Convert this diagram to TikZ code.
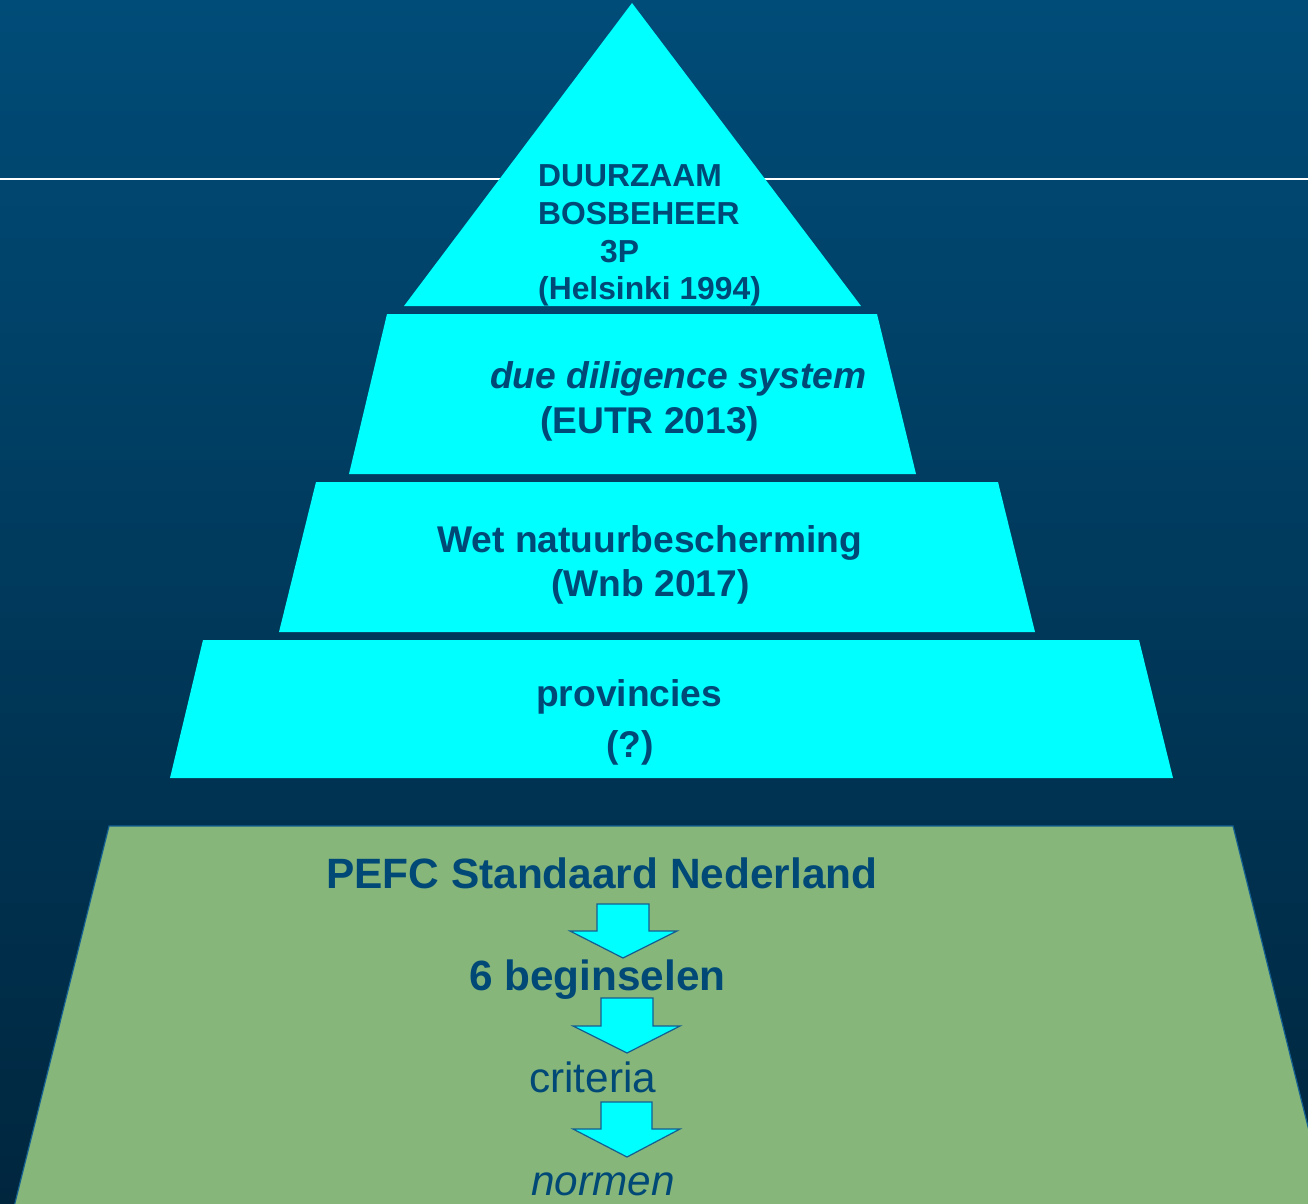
\documentclass[tikz,border=0pt]{standalone}
\usepackage{fontspec}
\setmainfont{Liberation Sans}
\definecolor{bgtop}{RGB}{0,76,120}
\definecolor{bgbot}{RGB}{0,38,62}
\definecolor{txt}{RGB}{0,72,118}
\definecolor{cyanf}{RGB}{0,255,255}
\definecolor{greenf}{RGB}{134,182,122}
\definecolor{edgeblue}{RGB}{20,95,145}
\begin{document}
\begin{tikzpicture}[x=1pt,y=-1pt,
  lbl/.style={inner sep=0pt,anchor=base west,text=txt},
  tri/.style={lbl,font=\fontsize{31.8}{37}\selectfont\bfseries},
  mid/.style={lbl,font=\fontsize{37.2}{44}\selectfont\bfseries},
  big/.style={lbl,font=\fontsize{42.3}{50}\selectfont},
  layer/.style={fill=cyanf},
  blockarrow/.style={fill=cyanf,draw=edgeblue,line width=1.2pt,line join=miter}]
\shade[top color=bgtop,bottom color=bgbot] (0,0) rectangle (1308,1203);
\useasboundingbox (0,0) rectangle (1308,1203);
\draw[white,line width=2.8pt] (0,179) -- (1308,179);
% pyramid layers
\fill[layer] (632,3) -- (861,306) -- (404,306) -- cycle;
\fill[layer] (387,314) -- (877,314) -- (916,474) -- (349,474) -- cycle;
\fill[layer] (316,482) -- (998,482) -- (1035,632) -- (279,632) -- cycle;
\fill[layer] (203,640) -- (1139,640) -- (1173,778) -- (170,778) -- cycle;
% base
\filldraw[fill=greenf,draw=edgeblue,line width=1.2pt] (109,826) -- (1233,826) -- (1330,1215) -- (12,1215) -- cycle;
% texts
\node[tri] (t1) at (538,186) {DUURZAAM};
\node[tri] (t2) at (538,224) {BOSBEHEER};
\node[tri] (t3) at (600,262) {3P};
\node[tri] (t4) at (538,299) {(Helsinki 1994)};
\node[mid,font=\fontsize{37.2}{44}\selectfont\bfseries\itshape] (d1) at (490,388) {due diligence system};
\node[mid] (d2) at (540,433) {(EUTR 2013)};
\node[mid] (w1) at (437,552) {Wet natuurbescherming};
\node[mid] (w2) at (551,596) {(Wnb 2017)};
\node[mid] (p1) at (536,706) {provincies};
\node[mid] (p2) at (606,757) {(?)};
\node[big,font=\fontsize{42.4}{50}\selectfont\bfseries] (s1) at (326,888) {PEFC Standaard Nederland};
\node[big,font=\fontsize{42.3}{50}\selectfont\bfseries] (s2) at (469,990) {6 beginselen};
\node[big] (s3) at (529,1092) {criteria};
\node[big,font=\fontsize{42.3}{50}\selectfont\itshape] (s4) at (531,1195) {normen};
% block arrows
\draw[blockarrow] (597,904) -- (649,904) -- (649,931) -- (677,931) -- (623,958) -- (570,931) -- (597,931) -- cycle;
\draw[blockarrow] (601,998) -- (653,998) -- (653,1026) -- (680,1026) -- (627,1053) -- (573,1026) -- (601,1026) -- cycle;
\draw[blockarrow] (601,1102) -- (652,1102) -- (652,1129) -- (680,1129) -- (627,1157) -- (573,1129) -- (601,1129) -- cycle;
\end{tikzpicture}
\end{document}
